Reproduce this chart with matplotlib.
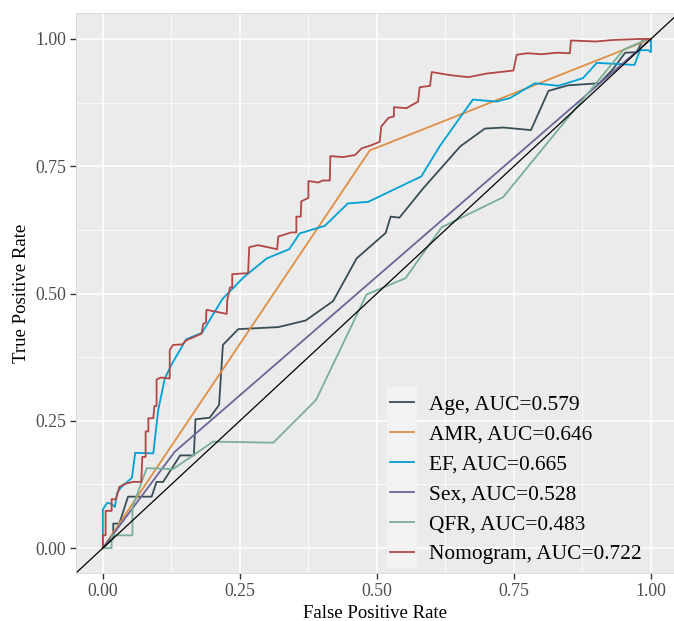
import numpy as np
import matplotlib
matplotlib.use("Agg")
import matplotlib.pyplot as plt
from matplotlib.patches import Rectangle

plt.rcParams['font.family'] = ['Liberation Serif', 'DejaVu Serif']

# ROC 曲线数据 (fpr, tpr)
age_fpr = [0, 0.019, 0.019, 0.030, 0.046, 0.089, 0.098, 0.110, 0.141, 0.166, 0.169, 0.195, 0.212,
           0.219, 0.247, 0.320, 0.370, 0.420, 0.463, 0.516, 0.525, 0.541, 0.584, 0.652, 0.697,
           0.731, 0.781, 0.813, 0.849, 0.906, 0.930, 0.953, 0.974, 0.985, 1.0]
age_tpr = [0, 0.020, 0.048, 0.048, 0.101, 0.101, 0.130, 0.130, 0.182, 0.182, 0.253, 0.256, 0.281,
           0.399, 0.430, 0.434, 0.447, 0.485, 0.569, 0.619, 0.651, 0.649, 0.706, 0.789, 0.824,
           0.826, 0.821, 0.898, 0.909, 0.913, 0.940, 0.973, 0.974, 0.998, 1.0]

amr_fpr = [0, 0.487, 1.0]
amr_tpr = [0, 0.781, 1.0]

ef_fpr = [0, 0, 0.008, 0.015, 0.022, 0.026, 0.033, 0.053, 0.059, 0.092, 0.101, 0.113, 0.125, 0.152,
          0.181, 0.218, 0.257, 0.299, 0.340, 0.359, 0.405, 0.447, 0.484, 0.581, 0.615, 0.675,
          0.718, 0.743, 0.788, 0.831, 0.876, 0.901, 0.937, 0.970, 0.980, 0.995, 1.0, 1.0]
ef_tpr = [0, 0.076, 0.089, 0.087, 0.081, 0.108, 0.119, 0.138, 0.187, 0.186, 0.271, 0.333, 0.360, 0.410,
          0.423, 0.489, 0.532, 0.569, 0.587, 0.618, 0.633, 0.677, 0.680, 0.730, 0.790, 0.881,
          0.877, 0.884, 0.913, 0.908, 0.923, 0.953, 0.951, 0.949, 0.978, 0.978, 0.974, 1.0]

sex_fpr = [0, 0.131, 1.0]
sex_tpr = [0, 0.189, 1.0]

qfr_fpr = [0, 0.016, 0.016, 0.054, 0.054, 0.080, 0.128, 0.201, 0.311, 0.389, 0.481, 0.552, 0.618,
           0.730, 0.950, 0.990, 1.0]
qfr_tpr = [0, 0, 0.025, 0.025, 0.080, 0.157, 0.155, 0.209, 0.207, 0.291, 0.498, 0.530, 0.630,
           0.689, 0.979, 0.998, 1.0]

nomo_fpr = [0, 0, 0.005, 0.005, 0.016, 0.016, 0.024, 0.030, 0.040, 0.055, 0.070, 0.072, 0.078, 0.078,
            0.083, 0.083, 0.092, 0.094, 0.098, 0.098, 0.106, 0.122, 0.122, 0.128, 0.145, 0.152,
            0.180, 0.183, 0.188, 0.189, 0.226, 0.227, 0.232, 0.236, 0.236, 0.265, 0.267, 0.283,
            0.318, 0.320, 0.344, 0.353, 0.353, 0.361, 0.362, 0.375, 0.375, 0.393, 0.401, 0.414,
            0.415, 0.438, 0.460, 0.472, 0.489, 0.505, 0.508, 0.521, 0.531, 0.531, 0.554, 0.575,
            0.578, 0.597, 0.600, 0.633, 0.667, 0.700, 0.749, 0.755, 0.775, 0.800, 0.828, 0.852,
            0.854, 0.900, 0.930, 0.980, 1.0]
nomo_tpr = [0, 0.025, 0.025, 0.073, 0.073, 0.096, 0.096, 0.120, 0.126, 0.130, 0.130, 0.179, 0.179, 0.229,
            0.229, 0.255, 0.255, 0.279, 0.279, 0.331, 0.335, 0.333, 0.389, 0.399, 0.400, 0.408,
            0.421, 0.440, 0.443, 0.468, 0.460, 0.487, 0.512, 0.512, 0.538, 0.540, 0.591, 0.595,
            0.587, 0.612, 0.620, 0.620, 0.651, 0.651, 0.681, 0.688, 0.721, 0.718, 0.722, 0.722,
            0.770, 0.768, 0.772, 0.785, 0.791, 0.798, 0.828, 0.845, 0.848, 0.866, 0.864, 0.877,
            0.905, 0.908, 0.935, 0.929, 0.925, 0.932, 0.938, 0.969, 0.972, 0.970, 0.973, 0.972,
            0.997, 0.995, 0.998, 1.0, 1.0]

labels = ['Age, AUC=0.579', 'AMR, AUC=0.646', 'EF, AUC=0.665',
          'Sex, AUC=0.528', 'QFR, AUC=0.483', 'Nomogram, AUC=0.722']
colors = ['#374E55', '#DF8F44', '#00A1D5', '#6A6599', '#79AF97', '#B24745']
curves = [(age_fpr, age_tpr), (amr_fpr, amr_tpr), (ef_fpr, ef_tpr),
          (sex_fpr, sex_tpr), (qfr_fpr, qfr_tpr), (nomo_fpr, nomo_tpr)]

fig = plt.figure(figsize=(6.74, 6.21), dpi=100)
ax = fig.add_axes([76 / 674, 48 / 621, 598 / 674, 560 / 621])
ax.set_facecolor('#EBEBEB')

# 网格
ticks = [0, 0.25, 0.5, 0.75, 1.0]
ax.set_xticks(ticks)
ax.set_yticks(ticks)
ax.set_xticks([0.125, 0.375, 0.625, 0.875], minor=True)
ax.set_yticks([0.125, 0.375, 0.625, 0.875], minor=True)
ax.grid(which='major', color='white', linewidth=1.1)
ax.grid(which='minor', color='white', linewidth=0.55)
ax.set_axisbelow(True)
ax.tick_params(which='minor', length=0)
ax.tick_params(which='major', length=4, width=1.0, color='#333333',
               labelsize=12.8, labelcolor='#4D4D4D', pad=3)
ax.set_xticklabels(['0.00', '0.25', '0.50', '0.75', '1.00'])
ax.set_yticklabels(['0.00', '0.25', '0.50', '0.75', '1.00'])
for s in ax.spines.values():
    s.set_color('#D5D5DD')
    s.set_linewidth(0.6)

for (fx, ty), c, lab in zip(curves, colors, labels):
    ax.plot(fx, ty, color=c, linewidth=1.3, label=lab)

ax.axline((0, 0), (1, 1), color='black', linewidth=0.9)

ax.set_xlim(-0.049, 1.042)
ax.set_ylim(-0.049, 1.051)
ax.set_xlabel('False Positive Rate', fontsize=13.5, labelpad=4)
ax.set_ylabel('True Positive Rate', fontsize=13.5, labelpad=4)

# 图例键背景
ax.add_patch(Rectangle((387 / 674, 53 / 621), 30 / 674, 181 / 621,
                       transform=fig.transFigure, facecolor='#F2F2F2',
                       edgecolor='none', zorder=4, clip_on=False))
leg = ax.legend(loc='upper left', bbox_to_anchor=(390 / 674, 1 - 395 / 621),
                bbox_transform=fig.transFigure, frameon=False, fontsize=15.4,
                handlelength=1.13, handletextpad=0.7, labelspacing=0.46,
                borderpad=0, borderaxespad=0)
leg.set_zorder(5)

plt.savefig('out.png', dpi=100)
